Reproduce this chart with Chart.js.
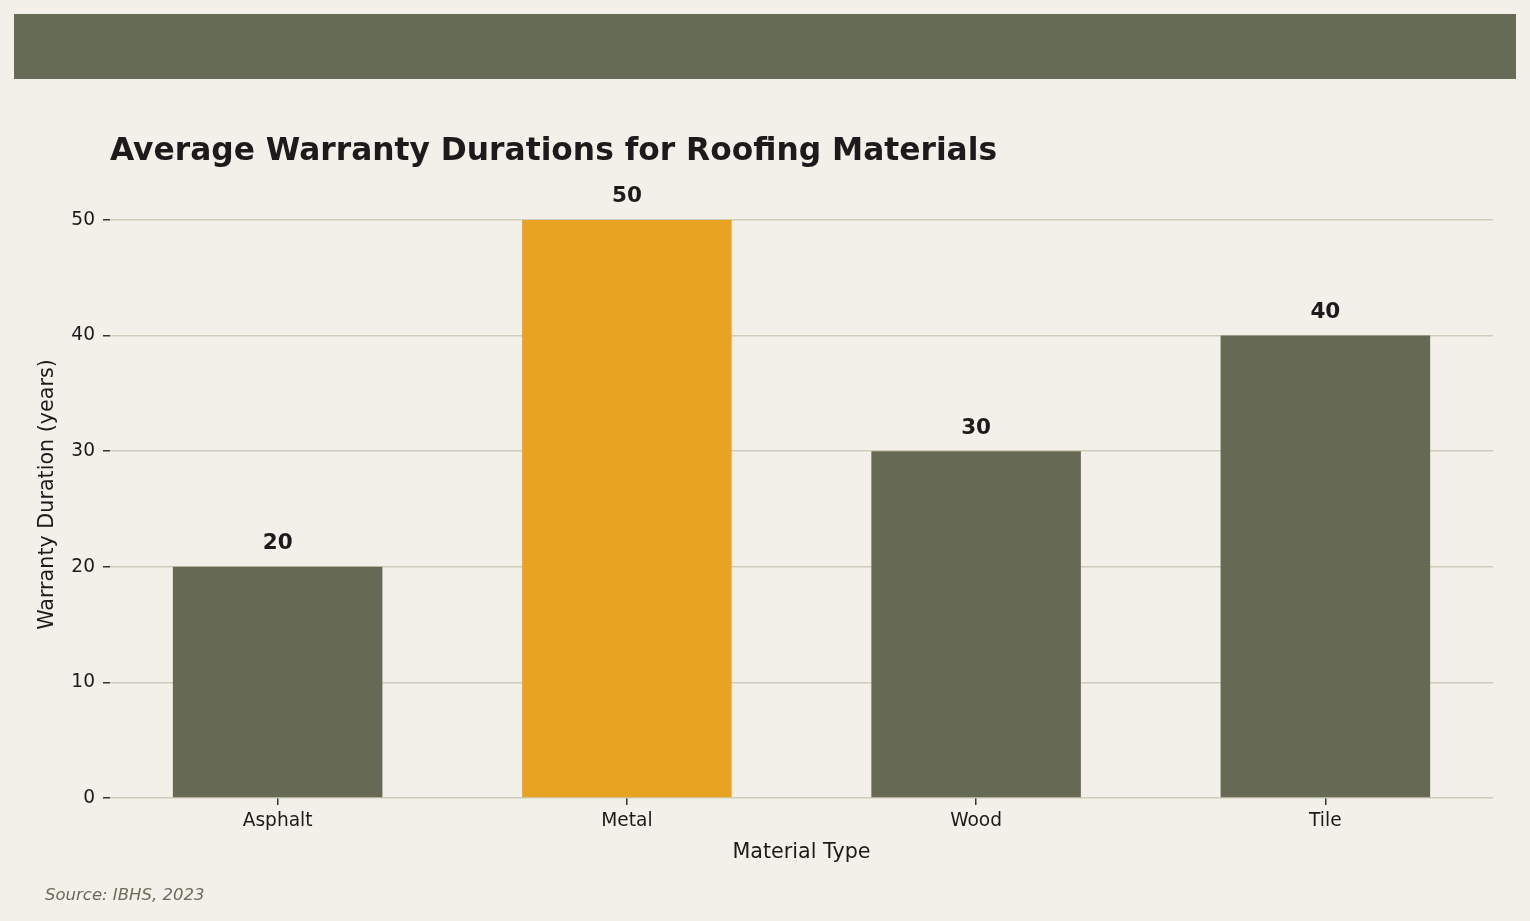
<!DOCTYPE html>
<html>
<head>
<meta charset="utf-8">
<title>Average Warranty Durations for Roofing Materials</title>
<script src="https://cdn.jsdelivr.net/npm/chart.js@4.4.0/dist/chart.umd.min.js"></script>
<style>
    html, body { margin: 0; padding: 0; background: #F2F0E9; }
    #wrap { width: 1530px; height: 921px; position: relative; }
</style>
</head>
<body>
<div id="wrap"><canvas id="chart" width="1530" height="921"></canvas></div>
<script>
    // Datos del gráfico
    const materials = ['Asphalt', 'Metal', 'Wood', 'Tile'];
    const warrantyYears = [20, 50, 30, 40];
    const highlight = [false, true, false, false];
    const yTicks = [0, 10, 20, 30, 40, 50];

    const OLIVE = '#666A55';
    const AMBER = '#E8A323';
    const INK = '#1C1A1A';
    const FONT = '"DejaVu Sans", sans-serif';

    // Fondo, banda superior, título y fuente
    const decorPlugin = {
        id: 'decor',
        beforeDraw(chart) {
            const ctx = chart.ctx;
            ctx.save();
            ctx.fillStyle = '#F2F0E9';
            ctx.fillRect(0, 0, chart.width, chart.height);
            ctx.fillStyle = '#666B55';
            ctx.fillRect(14, 14, 1502, 65);
            ctx.restore();
        },
        afterDraw(chart) {
            const ctx = chart.ctx;
            ctx.save();
            ctx.fillStyle = INK;
            ctx.font = 'bold 31.3px ' + FONT;
            ctx.textAlign = 'left';
            ctx.textBaseline = 'middle';
            ctx.fillText('Average Warranty Durations for Roofing Materials', 110, 152);

            ctx.fillStyle = '#6B6B5A';
            ctx.font = 'italic 16.5px ' + FONT;
            ctx.fillText('Source: IBHS, 2023', 45, 896);
            ctx.restore();
        }
    };

    // Etiquetas de valor sobre las barras
    const valueLabels = {
        id: 'valueLabels',
        afterDatasetsDraw(chart) {
            const ctx = chart.ctx;
            const meta = chart.getDatasetMeta(0);
            ctx.save();
            ctx.fillStyle = INK;
            ctx.font = 'bold 21.5px ' + FONT;
            ctx.textAlign = 'center';
            ctx.textBaseline = 'middle';
            meta.data.forEach((bar, i) => {
                ctx.fillText(String(warrantyYears[i]), bar.x, bar.y - 23);
            });
            ctx.restore();
        }
    };

    new Chart(document.getElementById('chart'), {
        type: 'bar',
        data: {
            datasets: [{
                data: warrantyYears.map((v, i) => ({ x: i, y: v })),
                backgroundColor: highlight.map(h => h ? AMBER : OLIVE),
                borderWidth: 0,
                barPercentage: 0.6,
                categoryPercentage: 1
            }]
        },
        options: {
            responsive: false,
            animation: false,
            devicePixelRatio: 1,
            layout: { padding: { top: 191, right: 37, bottom: 0, left: 0 } },
            plugins: {
                legend: { display: false },
                tooltip: { enabled: false }
            },
            scales: {
                x: {
                    type: 'linear',
                    min: -0.48,
                    max: 3.48,
                    offset: false,
                    afterBuildTicks: s => { s.ticks = materials.map((m, i) => ({ value: i })); },
                    afterFit: s => { s.height = 123; },
                    border: { display: false },
                    grid: {
                        offset: false,
                        drawOnChartArea: false,
                        drawTicks: true,
                        tickLength: 7,
                        tickColor: '#333333',
                        lineWidth: 1.5
                    },
                    ticks: {
                        color: INK,
                        font: { family: FONT, size: 18.6 },
                        padding: 5,
                        maxRotation: 0,
                        callback: v => materials[v]
                    },
                    title: {
                        display: true,
                        text: 'Material Type',
                        color: INK,
                        font: { family: FONT, size: 20.7 },
                        padding: { top: 0, bottom: 56 }
                    }
                },
                y: {
                    min: 0,
                    max: 52.5,
                    afterBuildTicks: s => { s.ticks = yTicks.map(v => ({ value: v })); },
                    afterFit: s => { s.width = 110; },
                    border: { display: false },
                    grid: {
                        color: '#CFCDBA',
                        lineWidth: 1.5,
                        tickLength: 7,
                        tickColor: '#333333'
                    },
                    ticks: {
                        color: INK,
                        font: { family: FONT, size: 18.6 },
                        padding: 8
                    },
                    title: {
                        display: true,
                        text: 'Warranty Duration (years)',
                        color: INK,
                        font: { family: FONT, size: 20.7 },
                        padding: { top: 35, bottom: 0 }
                    }
                }
            }
        },
        plugins: [decorPlugin, valueLabels]
    });
</script>
</body>
</html>
